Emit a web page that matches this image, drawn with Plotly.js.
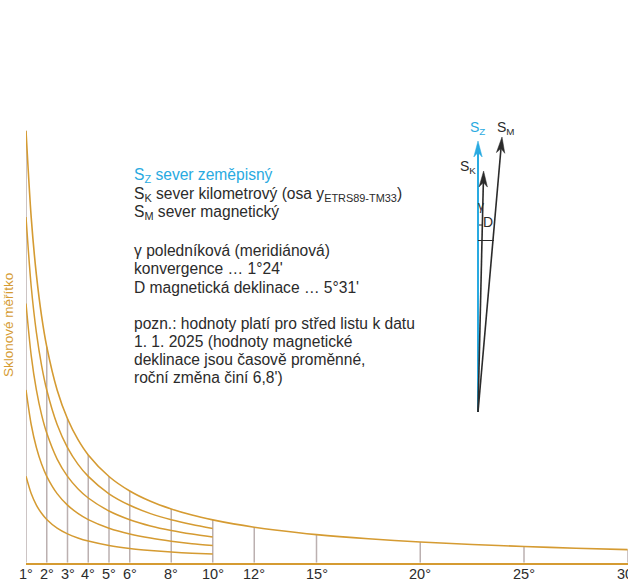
<!DOCTYPE html>
<html>
<head>
<meta charset="utf-8">
<script src="https://cdn.plot.ly/plotly-3.0.1.min.js"></script>
<style>html,body{margin:0;padding:0;background:#fff;}#chart{width:628px;height:586px;}</style>
</head>
<body>
<div id="chart"></div>
<script>
// Slope angles (degrees) at which the curves were read
const degrees = [1, 1.25, 1.5, 1.75, 2, 2.5, 3, 3.5, 4, 5, 6, 7, 8, 9, 10];
const degreesLong = [1, 1.25, 1.5, 1.75, 2, 2.5, 3, 3.5, 4, 5, 6, 7, 8, 9, 10, 11, 12, 13, 15, 17.5, 20, 22.5, 25, 27.5, 30];
// Heights of the slope-scale curves (1x .. 5x contour interval)
const curve1 = [86.4, 69.1, 57.6, 49.4, 43.2, 34.5, 28.8, 24.7, 21.6, 17.2, 14.3, 12.3, 10.7, 9.5, 8.6];
const curve2 = [172.8, 138.2, 115.2, 98.7, 86.4, 69.1, 57.6, 49.3, 43.1, 34.5, 28.7, 24.6, 21.5, 19.0, 17.1];
const curve3 = [259.2, 207.4, 172.8, 148.1, 129.6, 103.6, 86.3, 74.0, 64.7, 51.7, 43.0, 36.8, 32.2, 28.6, 25.7];
const curve4 = [345.6, 276.5, 230.4, 197.4, 172.7, 138.2, 115.1, 98.6, 86.3, 68.9, 57.4, 49.1, 42.9, 38.1, 34.2];
const curve5 = [432, 345.6, 288, 246.8, 216, 172.7, 143.9, 123.3, 107.8, 86.2, 71.7, 61.4, 53.7, 47.6, 42.8, 38.8, 35.5, 32.7, 28.1, 23.9, 20.7, 18.2, 16.2, 14.5, 13.1];
// Tick labels
const tickValues = [1, 2, 3, 4, 5, 6, 8, 10, 12, 15, 20, 25, 30];
const tickLabels = ["1°", "2°", "3°", "4°", "5°", "6°", "8°", "10°", "12°", "15°", "20°", "25°", "30°"];
const axisTitle = "Sklonové měřítko";

const GOLD = "#d59b32";
const GREY = "#bbb0b0";
const BLUE = "#29aae1";
const DARK = "#2b2b2b";
const W = 628, H = 586;

// vertical guide lines from baseline up to the top curve
const vx = [], vy = [];
tickValues.forEach(t => {
  const i = degreesLong.indexOf(t);
  vx.push(t, t, null);
  vy.push(0, curve5[i], null);
});

const traces = [
  {x: vx, y: vy, mode: "lines", line: {color: GREY, width: 1.5}, hoverinfo: "skip", showlegend: false}
];
[curve1, curve2, curve3, curve4].forEach(c => {
  traces.push({x: degrees, y: c, mode: "lines", line: {color: GOLD, width: 1.5, shape: "spline", smoothing: 0.8}, showlegend: false, hoverinfo: "skip"});
});
traces.push({x: degreesLong, y: curve5, mode: "lines", line: {color: GOLD, width: 1.6, shape: "spline", smoothing: 0.8}, showlegend: false, hoverinfo: "skip"});
// invisible trace on the pixel overlay axes
traces.push({x: [0], y: [0], xaxis: "x2", yaxis: "y2", mode: "markers", marker: {opacity: 0}, hoverinfo: "skip", showlegend: false});

// north-arrow diagram (decoration, pixel coordinates on overlay axes)
function head(tx, ty, bx, by, len, half) {
  const dx = tx - bx, dy = ty - by, L = Math.hypot(dx, dy);
  const ux = dx / L, uy = dy / L, px = -uy, py = ux;
  const cx = tx - len * ux, cy = ty - len * uy;
  const nx = tx - len * 0.72 * ux, ny = ty - len * 0.72 * uy;
  return `M${tx},${ty} L${cx + half * px},${cy + half * py} L${nx},${ny} L${cx - half * px},${cy - half * py} Z`;
}
const base = [478, 412];
const shapes = [
  {type: "line", xref: "x2", yref: "y2", x0: base[0], y0: base[1], x1: 478, y1: 150, line: {color: BLUE, width: 2}},
  {type: "path", xref: "x2", yref: "y2", path: head(478, 141, base[0], base[1], 16, 4.2), fillcolor: BLUE, line: {color: BLUE, width: 0.5}},
  {type: "line", xref: "x2", yref: "y2", x0: base[0], y0: base[1], x1: 483.4, y1: 180, line: {color: DARK, width: 1.6}},
  {type: "path", xref: "x2", yref: "y2", path: head(483.6, 171, base[0], base[1], 16, 4.2), fillcolor: DARK, line: {color: DARK, width: 0.5}},
  {type: "line", xref: "x2", yref: "y2", x0: base[0], y0: base[1], x1: 501.2, y1: 146, line: {color: DARK, width: 1.6}},
  {type: "path", xref: "x2", yref: "y2", path: head(502, 137, base[0], base[1], 16, 4.2), fillcolor: DARK, line: {color: DARK, width: 0.5}},
  {type: "line", xref: "x2", yref: "y2", x0: 478, y0: 240.5, x1: 494, y1: 240.5, line: {color: DARK, width: 1}},
  {type: "line", xref: "x2", yref: "y2", x0: 479, y0: 225, x1: 482, y1: 225, line: {color: DARK, width: 1}}
];

const FONT = "Liberation Sans, Arial, sans-serif";
const legendLines = [
  [175.5, `<span style="color:${BLUE}">S<sub>Z</sub> sever zeměpisný</span>`],
  [194, `S<sub>K</sub> sever kilometrový (osa y<sub>ETRS89-TM33</sub>)`],
  [212.5, `S<sub>M</sub> sever magnetický`],
  [250, `γ poledníková (meridiánová)`],
  [268.5, `konvergence … 1°24'`],
  [287, `D magnetická deklinace … 5°31'`],
  [323, `pozn.: hodnoty platí pro střed listu k datu`],
  [341.5, `1. 1. 2025 (hodnoty magnetické`],
  [359.5, `deklinace jsou časově proměnné,`],
  [377.5, `roční změna činí 6,8')`]
];

const annotations = [
  {xref: "x2", yref: "y2", x: 8, y: 325, textangle: -90, showarrow: false, text: axisTitle,
   font: {family: FONT, size: 13.5, color: GOLD}},
  {xref: "x2", yref: "y2", x: 477, y: 128, showarrow: false, text: "S<sub>Z</sub>", font: {family: FONT, size: 14, color: BLUE}},
  {xref: "x2", yref: "y2", x: 506, y: 128, showarrow: false, text: "S<sub>M</sub>", font: {family: FONT, size: 14, color: DARK}},
  {xref: "x2", yref: "y2", x: 468, y: 167, showarrow: false, text: "S<sub>K</sub>", font: {family: FONT, size: 14, color: DARK}},
  {xref: "x2", yref: "y2", x: 480.5, y: 206, showarrow: false, text: "γ", font: {family: FONT, size: 12, color: DARK}},
  {xref: "x2", yref: "y2", x: 488, y: 221.5, showarrow: false, text: "D", font: {family: FONT, size: 14, color: DARK}}
];
legendLines.forEach(([y, txt]) => {
  annotations.push({xref: "x2", yref: "y2", x: 131.5, y: y, xanchor: "left", yanchor: "middle", align: "left",
    showarrow: false, text: txt, font: {family: FONT, size: 15.6, color: DARK}});
});
// tick labels placed just under the baseline
tickValues.forEach((t, i) => {
  annotations.push({xref: "x", yref: "y2", x: t, y: 573.5, showarrow: false, text: tickLabels[i],
    font: {family: FONT, size: 14.5, color: DARK}});
});

const layout = {
  width: W, height: H,
  margin: {l: 0, r: 0, t: 0, b: 0},
  paper_bgcolor: "#fff", plot_bgcolor: "rgba(0,0,0,0)",
  showlegend: false,
  font: {family: FONT, color: DARK},
  xaxis: {
    domain: [26 / W, 627.75 / W], range: [1, 30], showgrid: false, zeroline: false,
    showline: true, linecolor: GOLD, linewidth: 2, ticks: "", showticklabels: false,
    fixedrange: true, automargin: false
  },
  yaxis: {
    domain: [23.3 / H, 1], range: [0, 562.7], visible: false, showgrid: false, zeroline: false, fixedrange: true
  },
  xaxis2: {domain: [0, 1], range: [0, W], visible: false, anchor: "y2", fixedrange: true},
  yaxis2: {domain: [0, 1], range: [H, 0], visible: false, anchor: "x2", fixedrange: true},
  shapes: shapes,
  annotations: annotations
};

Plotly.newPlot("chart", traces, layout, {displayModeBar: false, staticPlot: true});
</script>
</body>
</html>
